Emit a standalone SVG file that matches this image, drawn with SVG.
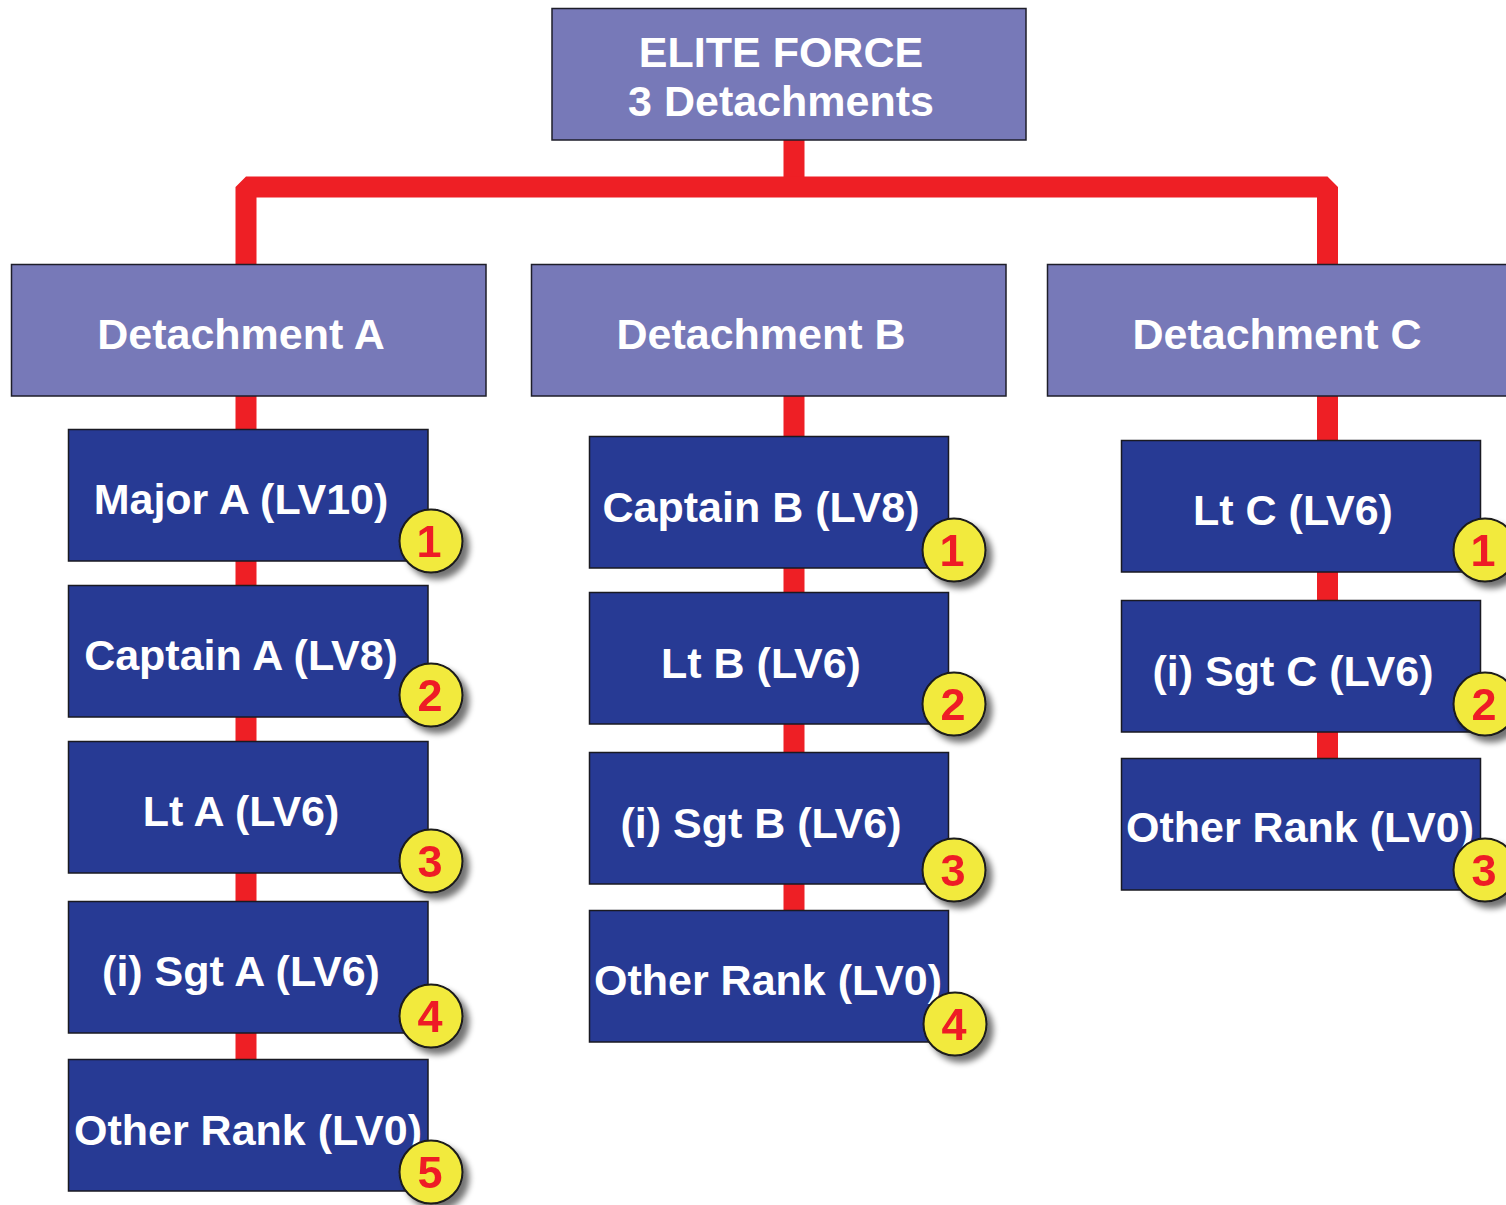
<svg xmlns="http://www.w3.org/2000/svg" width="1506" height="1205" viewBox="0 0 1506 1205">
<style>
.top{fill:#7779b8;stroke:#1e1e2a;stroke-width:1.5}
.rank{fill:#273a94;stroke:#1a1a22;stroke-width:1.5}
.t{font-family:"Liberation Sans",Arial,sans-serif;font-weight:bold;font-size:43px;fill:#ffffff;text-anchor:middle}
.badge circle{fill:#f2ea3c;stroke:#1a1a1a;stroke-width:2}
.badge text{font-family:"Liberation Sans",Arial,sans-serif;font-weight:bold;font-size:45px;fill:#ee1c25;text-anchor:middle}
.conn{fill:none;stroke:#ee1f25;stroke-width:21;stroke-linejoin:bevel}
</style>
<defs>
<filter id="sh" x="-50%" y="-50%" width="200%" height="200%">
<feGaussianBlur in="SourceAlpha" stdDeviation="3"/>
<feOffset dx="6" dy="6" result="o"/>
<feComponentTransfer><feFuncA type="linear" slope="0.55"/></feComponentTransfer>
<feMerge><feMergeNode/><feMergeNode in="SourceGraphic"/></feMerge>
</filter>
</defs>
<rect width="1506" height="1205" fill="#ffffff"/>
<g id="connectors">
<path class="conn" d="M794 140 V187"/>
<path class="conn" d="M246 264 V187 H1327.5 V264"/>
<path class="conn" d="M246 396 V1059"/>
<path class="conn" d="M794 396 V910"/>
<path class="conn" d="M1327.5 396 V758"/>
</g>
<g id="elite-force">
<rect class="top" x="552" y="8.5" width="474" height="131.5"/>
<text class="t" x="781" y="67">ELITE FORCE</text>
<text class="t" x="781" y="116">3 Detachments</text>
</g>
<g id="detachment-a">
<rect class="top" x="11.5" y="264.5" width="474.5" height="131.5"/>
<text class="t" x="241" y="349">Detachment A</text>
</g>
<g id="detachment-b">
<rect class="top" x="531.5" y="264.5" width="474.5" height="131.5"/>
<text class="t" x="761" y="349">Detachment B</text>
</g>
<g id="detachment-c">
<rect class="top" x="1047.5" y="264.5" width="474.5" height="131.5"/>
<text class="t" x="1277" y="349">Detachment C</text>
</g>
<g id="major-a">
<rect class="rank" x="68.5" y="429.5" width="359.5" height="131.5"/>
<text class="t" x="241" y="514">Major A (LV10)</text>
<g class="badge" filter="url(#sh)"><circle cx="431" cy="541" r="31.5"/><text x="429" y="557">1</text></g>
</g>
<g id="captain-a">
<rect class="rank" x="68.5" y="585.5" width="359.5" height="131.5"/>
<text class="t" x="241" y="670">Captain A (LV8)</text>
<g class="badge" filter="url(#sh)"><circle cx="431" cy="695" r="31.5"/><text x="430" y="711">2</text></g>
</g>
<g id="lt-a">
<rect class="rank" x="68.5" y="741.5" width="359.5" height="131.5"/>
<text class="t" x="241" y="826">Lt A (LV6)</text>
<g class="badge" filter="url(#sh)"><circle cx="431" cy="861" r="31.5"/><text x="430" y="877">3</text></g>
</g>
<g id="sgt-a">
<rect class="rank" x="68.5" y="901.5" width="359.5" height="131.5"/>
<text class="t" x="241" y="986">(i) Sgt A (LV6)</text>
<g class="badge" filter="url(#sh)"><circle cx="431" cy="1016" r="31.5"/><text x="430" y="1032">4</text></g>
</g>
<g id="other-rank-a">
<rect class="rank" x="68.5" y="1059.5" width="359.5" height="131.5"/>
<text class="t" x="248" y="1145">Other Rank (LV0)</text>
<g class="badge" filter="url(#sh)"><circle cx="431" cy="1172" r="31.5"/><text x="430" y="1188">5</text></g>
</g>
<g id="captain-b">
<rect class="rank" x="589.5" y="436.5" width="359" height="131.5"/>
<text class="t" x="761" y="522">Captain B (LV8)</text>
<g class="badge" filter="url(#sh)"><circle cx="954" cy="550" r="31.5"/><text x="952" y="566">1</text></g>
</g>
<g id="lt-b">
<rect class="rank" x="589.5" y="592.5" width="359" height="131.5"/>
<text class="t" x="761" y="678">Lt B (LV6)</text>
<g class="badge" filter="url(#sh)"><circle cx="954" cy="704" r="31.5"/><text x="953" y="720">2</text></g>
</g>
<g id="sgt-b">
<rect class="rank" x="589.5" y="752.5" width="359" height="131.5"/>
<text class="t" x="761" y="838">(i) Sgt B (LV6)</text>
<g class="badge" filter="url(#sh)"><circle cx="954" cy="870" r="31.5"/><text x="953" y="886">3</text></g>
</g>
<g id="other-rank-b">
<rect class="rank" x="589.5" y="910.5" width="359" height="131.5"/>
<text class="t" x="768" y="995">Other Rank (LV0)</text>
<g class="badge" filter="url(#sh)"><circle cx="955" cy="1024" r="31.5"/><text x="954" y="1040">4</text></g>
</g>
<g id="lt-c">
<rect class="rank" x="1121.5" y="440.5" width="359" height="131.5"/>
<text class="t" x="1293" y="525">Lt C (LV6)</text>
<g class="badge" filter="url(#sh)"><circle cx="1485" cy="550" r="31.5"/><text x="1483" y="566">1</text></g>
</g>
<g id="sgt-c">
<rect class="rank" x="1121.5" y="600.5" width="359" height="131.5"/>
<text class="t" x="1293" y="686">(i) Sgt C (LV6)</text>
<g class="badge" filter="url(#sh)"><circle cx="1485" cy="704" r="31.5"/><text x="1484" y="720">2</text></g>
</g>
<g id="other-rank-c">
<rect class="rank" x="1121.5" y="758.5" width="359" height="131.5"/>
<text class="t" x="1300" y="842">Other Rank (LV0)</text>
<g class="badge" filter="url(#sh)"><circle cx="1485" cy="870" r="31.5"/><text x="1484" y="886">3</text></g>
</g>
</svg>
